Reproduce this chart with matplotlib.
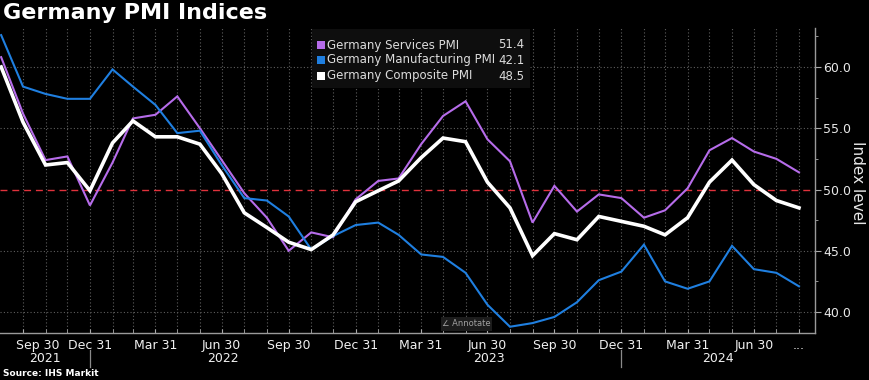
import matplotlib
matplotlib.use('Agg')
import matplotlib.pyplot as plt
import matplotlib.dates as mdates
import pandas as pd
from matplotlib.ticker import FixedLocator
from matplotlib.transforms import ScaledTranslation, blended_transform_factory
from matplotlib.patches import Rectangle

# ---------------- data ----------------
months = pd.date_range('2021-08-31', '2024-08-31', freq='ME')

services = [60.8, 56.2, 52.4, 52.7, 48.7, 52.2, 55.8, 56.1, 57.6, 55.0, 52.4, 49.7,
            47.7, 45.0, 46.5, 46.1, 49.2, 50.7, 50.9, 53.7, 56.0, 57.2, 54.1, 52.3,
            47.3, 50.3, 48.2, 49.6, 49.3, 47.7, 48.3, 50.1, 53.2, 54.2, 53.1, 52.5, 51.4]
manufacturing = [62.6, 58.4, 57.8, 57.4, 57.4, 59.8, 58.4, 56.9, 54.6, 54.8, 52.0, 49.3,
                 49.1, 47.8, 45.1, 46.2, 47.1, 47.3, 46.3, 44.7, 44.5, 43.2, 40.6, 38.8,
                 39.1, 39.6, 40.8, 42.6, 43.3, 45.5, 42.5, 41.9, 42.5, 45.4, 43.5, 43.2, 42.1]
composite = [60.0, 55.5, 52.0, 52.2, 49.9, 53.8, 55.6, 54.3, 54.3, 53.7, 51.3, 48.1,
             46.9, 45.7, 45.1, 46.3, 49.0, 49.9, 50.7, 52.6, 54.2, 53.9, 50.6, 48.5,
             44.6, 46.4, 45.9, 47.8, 47.4, 47.0, 46.3, 47.7, 50.6, 52.4, 50.4, 49.1, 48.5]

series_names = ['Germany Services PMI', 'Germany Manufacturing PMI', 'Germany Composite PMI']
series_colors = ['#b66cea', '#1f7fe0', '#ffffff']

tick_dates = ['2021-09-30', '2021-12-31', '2022-03-31', '2022-06-30', '2022-09-30',
              '2022-12-31', '2023-03-31', '2023-06-30', '2023-09-30', '2023-12-31',
              '2024-03-31', '2024-06-30', '2024-08-31']
tick_labels = ['Sep 30', 'Dec 31', 'Mar 31', 'Jun 30', 'Sep 30', 'Dec 31', 'Mar 31',
               'Jun 30', 'Sep 30', 'Dec 31', 'Mar 31', 'Jun 30', '...']
years = ['2021', '2022', '2023', '2024']
year_separators = ['2021-12-31', '2023-12-31']
yticks = [40, 45, 50, 55, 60]
yminor = [42.5, 47.5, 52.5, 57.5, 62.5]

# ---------------- figure ----------------
W, H = 870, 380
fig = plt.figure(figsize=(W / 100, H / 100), dpi=100, facecolor='black')
ax = fig.add_axes([0 / W, 1 - 333 / H, 815 / W, 305 / H])
ax.set_facecolor('black')

x0 = pd.Timestamp('2021-08-29 10:00')
x1 = pd.Timestamp('2024-09-22')
ax.set_xlim(x0, x1)
ax.set_ylim(38.29, 63.18)

ax.plot(months, services, color=series_colors[0], lw=1.5, zorder=3, solid_joinstyle='miter')
ax.plot(months, manufacturing, color=series_colors[1], lw=1.5, zorder=3.1, solid_joinstyle='miter')
ax.plot(months, composite, color=series_colors[2], lw=2.6, zorder=4, solid_joinstyle='miter')

# reference line at 50
ax.axhline(50, color='#e0323c', ls=(0, (5, 3.5)), lw=1.0, zorder=2)

# spines
for s in ['left', 'top']:
    ax.spines[s].set_visible(False)
for s in ['right', 'bottom']:
    ax.spines[s].set_color('#9a9a9a')
    ax.spines[s].set_linewidth(1.0)

# y axis on right
ax.yaxis.tick_right()
ax.set_yticks(yticks)
ax.set_yticklabels([f'{v:.1f}' for v in yticks])
ax.yaxis.set_minor_locator(FixedLocator(yminor))
ax.tick_params(axis='y', which='major', direction='out', length=4, color='#aaaaaa',
               labelcolor='#e8e8e8', labelsize=9, pad=2)
ax.tick_params(axis='y', which='minor', direction='out', length=2.5, color='#aaaaaa')
ax.grid(axis='y', which='major', color='#5e5e5e', ls=(0, (1, 2)), lw=0.8, zorder=1)
for line, v in zip(ax.yaxis.get_gridlines(), yticks):
    if v == 50:
        line.set_visible(False)

# x axis
tick_ts = pd.to_datetime(tick_dates)
ax.set_xticks(tick_ts)
ax.set_xticklabels(tick_labels)
ax.xaxis.set_minor_locator(FixedLocator(mdates.date2num(months[1:])))
ax.tick_params(axis='x', which='both', direction='in', length=3, color='#aaaaaa',
               labelcolor='#f0f0f0', labelsize=9, pad=4)
ax.grid(axis='x', which='both', color='#5e5e5e', ls=(0, (1, 2)), lw=0.8, zorder=1)
lbl0 = ax.get_xticklabels()[0]
lbl0.set_transform(lbl0.get_transform() + ScaledTranslation(15 / 100, 0, fig.dpi_scale_trans))

# year labels and separators
bt = blended_transform_factory(ax.transData, fig.transFigure)
bounds = [x0] + list(pd.to_datetime(['2021-12-31', '2022-12-31', '2023-12-31'])) + [x1]
for i, yr in enumerate(years):
    mid = bounds[i] + (bounds[i + 1] - bounds[i]) / 2
    ax.text(mid, 1 - 358 / H, yr, transform=bt, ha='center', va='center',
            color='#f0f0f0', fontsize=9, clip_on=False)
for d in pd.to_datetime(year_separators):
    ax.plot([d, d], [1 - 350 / H, 1 - 367 / H], transform=bt, color='#8a8a8a',
            lw=0.9, clip_on=False)

# right label
fig.text(858 / W, 1 - 183 / H, 'Index level', rotation=-90, ha='center', va='center',
         color='#e8e8e8', fontsize=11)

# title and source
fig.text(3 / W, 1 - 3 / H, 'Germany PMI Indices', fontsize=16, fontweight='bold',
         color='white', ha='left', va='top')
fig.text(3 / W, 1 - 373 / H, 'Source: IHS Markit', fontsize=6.5, fontweight='bold',
         color='white', ha='left', va='center')

# legend box
ft = fig.transFigure
ax.add_patch(Rectangle((312 / W, 1 - 88 / H), 218 / W, 59 / H, transform=ft,
                       facecolor='#0e0e0e', edgecolor='none', zorder=6, clip_on=False))
rows_y = [45, 60, 76]
last_vals = [services[-1], manufacturing[-1], composite[-1]]
for name, col, yv, val in zip(series_names, series_colors, rows_y, last_vals):
    ax.add_patch(Rectangle((317 / W, 1 - (yv + 4) / H), 8 / W, 8 / H, transform=ft,
                           facecolor=col, edgecolor='none', zorder=7, clip_on=False))
    ax.text(327 / W, 1 - yv / H, name, transform=ft, ha='left', va='center',
            color='#dcdcdc', fontsize=8.5, zorder=7, clip_on=False)
    ax.text(498 / W, 1 - yv / H, f'{val:.1f}', transform=ft, ha='left', va='center',
            color='#dcdcdc', fontsize=8.5, zorder=7, clip_on=False)

# "Annotate" button
ax.add_patch(Rectangle((441 / W, 1 - 331 / H), 51 / W, 14 / H, transform=ft,
                       facecolor='#1c1c1c', edgecolor='none', zorder=6, clip_on=False))
ax.text(466 / W, 1 - 324 / H, '\u2220 Annotate', transform=ft, ha='center', va='center',
        color='#a0a0a0', fontsize=6, zorder=7, clip_on=False)

fig.savefig('out.png', dpi=100, facecolor='black')
